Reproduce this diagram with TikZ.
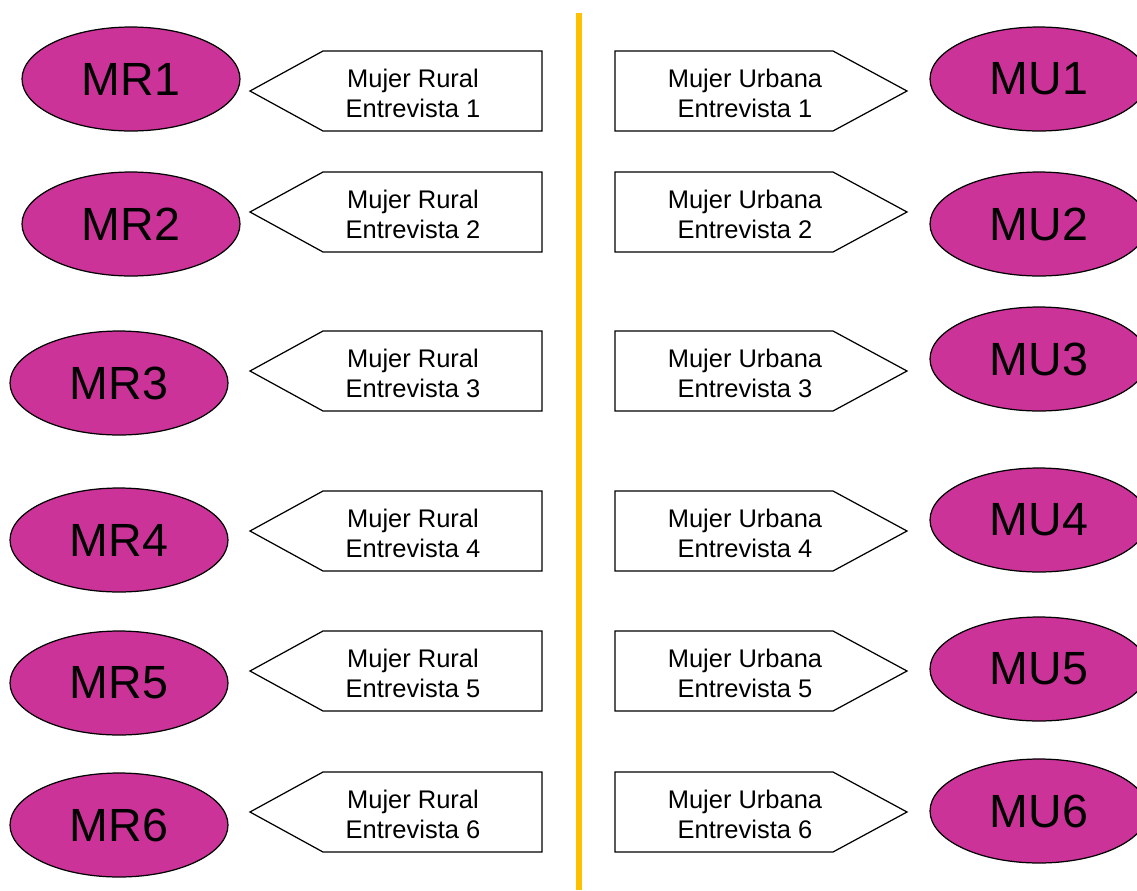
\documentclass[tikz,border=0pt]{standalone}
\usepackage{fontspec}
\setmainfont{Liberation Sans}
\usepackage{tikz}
\usetikzlibrary{shapes.geometric}

\definecolor{rosa}{HTML}{CC3399}
\definecolor{naranja}{HTML}{FFC000}

\tikzset{
  mujer/.style = {ellipse, draw, line width = 0.7pt, fill = rosa, inner sep = 0pt,
                  minimum width = 4.36cm, minimum height = 2.08cm,
                  font = \fontsize{26.5}{30}\selectfont},
  caja/.style  = {draw, line width = 0.7pt, line join = miter},
  texto/.style = {align = center, inner sep = 0pt, font = \fontsize{14.5}{17}\selectfont}
}

\begin{document}
\begin{tikzpicture}[x = 0.02cm, y = -0.02cm]
        \useasboundingbox (0,0) rectangle (1137,890);
        \clip (0,0) rectangle (1137,890);

        % linea central
        \coordinate (arriba) at (579,13);
        \coordinate (abajo) at (579,890);
        \draw [naranja, line width = 3.7pt] (arriba) -- (abajo);

        % mujer rural
        \node [mujer] (mr1) at (131,79) {MR1};
        \node [mujer] (mr2) at (131,224) {MR2};
        \node [mujer] (mr3) at (119,383) {MR3};
        \node [mujer] (mr4) at (119,540) {MR4};
        \node [mujer] (mr5) at (119,683) {MR5};
        \node [mujer] (mr6) at (119,825) {MR6};

        \draw [caja] (542,51) -- (323,51) -- (250,91) -- (323,131) -- (542,131) -- cycle;
        \draw [caja] (542,172) -- (323,172) -- (250,212) -- (323,252) -- (542,252) -- cycle;
        \draw [caja] (542,331) -- (323,331) -- (250,371) -- (323,411) -- (542,411) -- cycle;
        \draw [caja] (542,491) -- (323,491) -- (250,531) -- (323,571) -- (542,571) -- cycle;
        \draw [caja] (542,631) -- (323,631) -- (250,671) -- (323,711) -- (542,711) -- cycle;
        \draw [caja] (542,772) -- (323,772) -- (250,812) -- (323,852) -- (542,852) -- cycle;

        \node [texto] (er1) at (413,93) {Mujer Rural\\Entrevista 1};
        \node [texto] (er2) at (413,214) {Mujer Rural\\Entrevista 2};
        \node [texto] (er3) at (413,373) {Mujer Rural\\Entrevista 3};
        \node [texto] (er4) at (413,533) {Mujer Rural\\Entrevista 4};
        \node [texto] (er5) at (413,673) {Mujer Rural\\Entrevista 5};
        \node [texto] (er6) at (413,814) {Mujer Rural\\Entrevista 6};

        % mujer urbana
        \draw [caja] (615,51) -- (833,51) -- (907,91) -- (833,131) -- (615,131) -- cycle;
        \draw [caja] (615,172) -- (833,172) -- (907,212) -- (833,252) -- (615,252) -- cycle;
        \draw [caja] (615,331) -- (833,331) -- (907,371) -- (833,411) -- (615,411) -- cycle;
        \draw [caja] (615,491) -- (833,491) -- (907,531) -- (833,571) -- (615,571) -- cycle;
        \draw [caja] (615,631) -- (833,631) -- (907,671) -- (833,711) -- (615,711) -- cycle;
        \draw [caja] (615,772) -- (833,772) -- (907,812) -- (833,852) -- (615,852) -- cycle;

        \node [texto] (eu1) at (745,93) {Mujer Urbana\\Entrevista 1};
        \node [texto] (eu2) at (745,214) {Mujer Urbana\\Entrevista 2};
        \node [texto] (eu3) at (745,373) {Mujer Urbana\\Entrevista 3};
        \node [texto] (eu4) at (745,533) {Mujer Urbana\\Entrevista 4};
        \node [texto] (eu5) at (745,673) {Mujer Urbana\\Entrevista 5};
        \node [texto] (eu6) at (745,814) {Mujer Urbana\\Entrevista 6};

        \node [mujer] (mu1) at (1039,79) {MU1};
        \node [mujer] (mu2) at (1039,224) {MU2};
        \node [mujer] (mu3) at (1039,359) {MU3};
        \node [mujer] (mu4) at (1039,520) {MU4};
        \node [mujer] (mu5) at (1039,669) {MU5};
        \node [mujer] (mu6) at (1039,811) {MU6};
    \end{tikzpicture}
\end{document}
